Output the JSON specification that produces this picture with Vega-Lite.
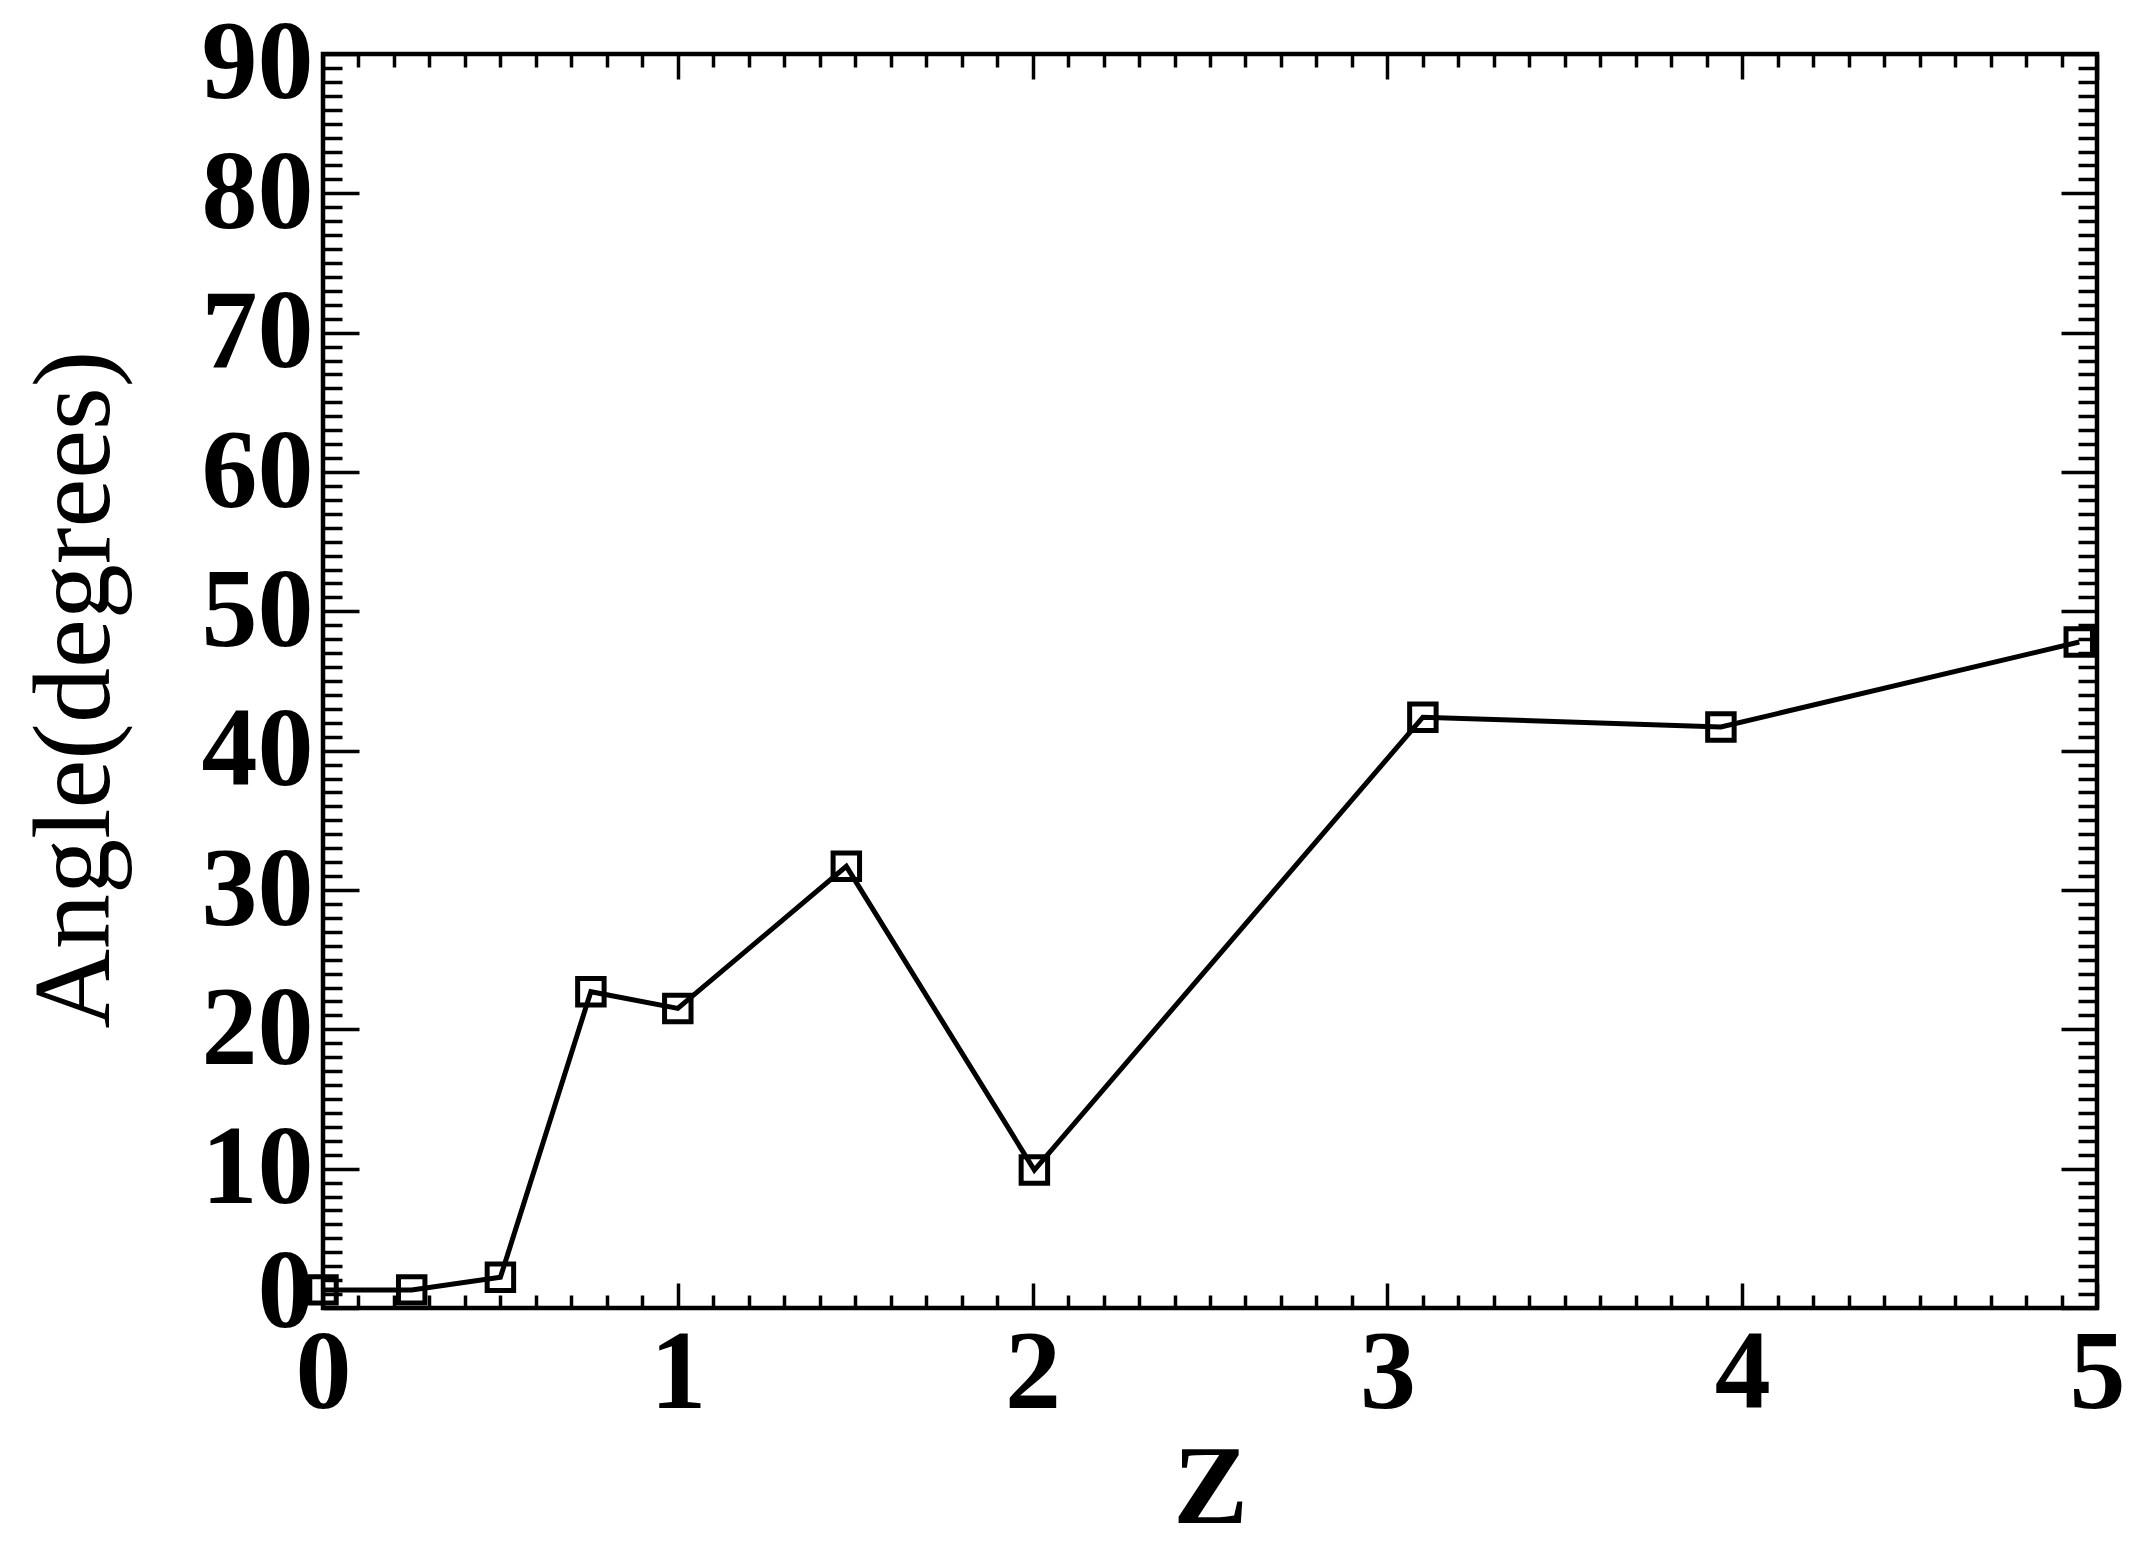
{
  "$schema": "https://vega.github.io/schema/vega-lite/v6.json",
  "width": 1774,
  "height": 1254,
  "autosize": {"type": "none"},
  "padding": {"left": 323, "top": 54, "right": 38, "bottom": 249},
  "background": "white",
  "config": {
    "view": {"stroke": "black", "strokeWidth": 4.5, "fill": "white"},
    "font": "Liberation Serif",
    "axis": {
      "grid": false,
      "domain": false,
      "tickColor": "black",
      "tickWidth": 3.5,
      "labelFont": "Liberation Serif",
      "labelFontWeight": "bold",
      "labelFontSize": 112,
      "labelColor": "black",
      "titleFont": "Liberation Serif",
      "titleColor": "black"
    }
  },
  "data": {
    "values": [
      {"Z": 0.0, "Angle": 1.3},
      {"Z": 0.25, "Angle": 1.3},
      {"Z": 0.5, "Angle": 2.2},
      {"Z": 0.755, "Angle": 22.7},
      {"Z": 1.0, "Angle": 21.5},
      {"Z": 1.475, "Angle": 31.7},
      {"Z": 2.005, "Angle": 9.9},
      {"Z": 3.1, "Angle": 42.4},
      {"Z": 3.94, "Angle": 41.7},
      {"Z": 4.95, "Angle": 47.8}
    ]
  },
  "resolve": {"axis": {"x": "independent", "y": "independent"}},
  "layer": [
    {
      "mark": {"type": "line", "color": "black", "strokeWidth": 5},
      "encoding": {
        "x": {
          "field": "Z", "type": "quantitative",
          "scale": {"domain": [0, 5], "nice": false, "zero": false},
          "axis": {
            "orient": "bottom", "values": [0, 1, 2, 3, 4, 5], "ticks": false,
            "labelPadding": 11, "labelBaseline": "top", "labelFlush": false,
            "title": "Z", "titleFontSize": 112, "titleFontWeight": "bold",
            "titleX": 887, "titleY": 214, "titleAlign": "center", "titleBaseline": "alphabetic"
          }
        },
        "y": {
          "field": "Angle", "type": "quantitative",
          "scale": {"domain": [0, 90], "nice": false, "zero": false},
          "axis": {
            "orient": "left", "values": [0, 10, 20, 30, 40, 50, 60, 70, 80, 90], "ticks": false,
            "labelPadding": 10, "labelBaseline": "middle", "labelFlush": false,
            "labelOffset": {"condition": [{"test": "datum.value == 0", "value": -16}, {"test": "datum.value == 90", "value": 9}], "value": 0},
            "title": "Angle(degrees)", "titleFontSize": 110, "titleFontWeight": "normal",
            "titleAngle": -90, "titleX": -215, "titleY": 635, "titleAlign": "center", "titleBaseline": "alphabetic"
          }
        }
      }
    },
    {
      "mark": {"type": "point", "shape": "square", "size": 700, "filled": false, "color": "black", "strokeWidth": 5, "opacity": 1},
      "encoding": {
        "x": {
          "field": "Z", "type": "quantitative",
          "scale": {"domain": [0, 5], "nice": false, "zero": false},
          "axis": {"orient": "bottom", "values": [0, 1, 2, 3, 4, 5], "tickSize": -25, "labels": false, "title": null}
        },
        "y": {
          "field": "Angle", "type": "quantitative",
          "scale": {"domain": [0, 90], "nice": false, "zero": false},
          "axis": {"orient": "left", "values": [0, 10, 20, 30, 40, 50, 60, 70, 80, 90], "tickSize": -36, "labels": false, "title": null}
        }
      }
    },
    {
      "mark": {"type": "point", "opacity": 0},
      "encoding": {
        "x": {
          "field": "Z", "type": "quantitative",
          "scale": {"domain": [0, 5], "nice": false, "zero": false},
          "axis": {"orient": "top", "values": [0, 1, 2, 3, 4, 5], "tickSize": -25, "labels": false, "title": null}
        },
        "y": {
          "field": "Angle", "type": "quantitative",
          "scale": {"domain": [0, 90], "nice": false, "zero": false},
          "axis": {"orient": "right", "values": [0, 10, 20, 30, 40, 50, 60, 70, 80, 90], "tickSize": -36, "labels": false, "title": null}
        }
      }
    },
    {
      "mark": {"type": "point", "opacity": 0},
      "encoding": {
        "x": {
          "field": "Z", "type": "quantitative",
          "scale": {"domain": [0, 5], "nice": false, "zero": false},
          "axis": {"orient": "bottom", "values": [0.1,0.2,0.3,0.4,0.5,0.6,0.7,0.8,0.9,1.1,1.2,1.3,1.4,1.5,1.6,1.7,1.8,1.9,2.1,2.2,2.3,2.4,2.5,2.6,2.7,2.8,2.9,3.1,3.2,3.3,3.4,3.5,3.6,3.7,3.8,3.9,4.1,4.2,4.3,4.4,4.5,4.6,4.7,4.8,4.9], "tickSize": -13, "labels": false, "title": null}
        },
        "y": {
          "field": "Angle", "type": "quantitative",
          "scale": {"domain": [0, 90], "nice": false, "zero": false},
          "axis": {"orient": "left", "values": [1,2,3,4,5,6,7,8,9,11,12,13,14,15,16,17,18,19,21,22,23,24,25,26,27,28,29,31,32,33,34,35,36,37,38,39,41,42,43,44,45,46,47,48,49,51,52,53,54,55,56,57,58,59,61,62,63,64,65,66,67,68,69,71,72,73,74,75,76,77,78,79,81,82,83,84,85,86,87,88,89], "tickSize": -19, "labels": false, "title": null}
        }
      }
    },
    {
      "mark": {"type": "point", "opacity": 0},
      "encoding": {
        "x": {
          "field": "Z", "type": "quantitative",
          "scale": {"domain": [0, 5], "nice": false, "zero": false},
          "axis": {"orient": "top", "values": [0.1,0.2,0.3,0.4,0.5,0.6,0.7,0.8,0.9,1.1,1.2,1.3,1.4,1.5,1.6,1.7,1.8,1.9,2.1,2.2,2.3,2.4,2.5,2.6,2.7,2.8,2.9,3.1,3.2,3.3,3.4,3.5,3.6,3.7,3.8,3.9,4.1,4.2,4.3,4.4,4.5,4.6,4.7,4.8,4.9], "tickSize": -13, "labels": false, "title": null}
        },
        "y": {
          "field": "Angle", "type": "quantitative",
          "scale": {"domain": [0, 90], "nice": false, "zero": false},
          "axis": {"orient": "right", "values": [1,2,3,4,5,6,7,8,9,11,12,13,14,15,16,17,18,19,21,22,23,24,25,26,27,28,29,31,32,33,34,35,36,37,38,39,41,42,43,44,45,46,47,48,49,51,52,53,54,55,56,57,58,59,61,62,63,64,65,66,67,68,69,71,72,73,74,75,76,77,78,79,81,82,83,84,85,86,87,88,89], "tickSize": -19, "labels": false, "title": null}
        }
      }
    }
  ]
}
